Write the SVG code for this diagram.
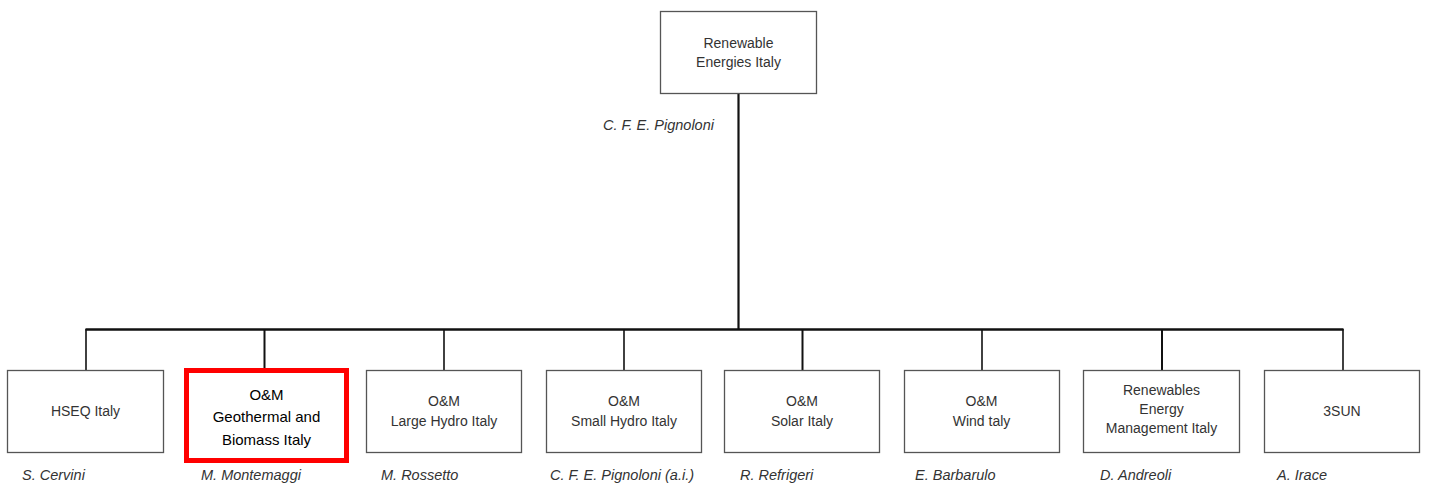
<svg xmlns="http://www.w3.org/2000/svg" width="1429" height="487" viewBox="0 0 1429 487">
  <style>
    .box { fill: #ffffff; stroke: #555555; stroke-width: 1.3; }
    .hl { fill: #ffffff; stroke: #ff0000; stroke-width: 5; }
    .lbl { font-family: "Liberation Sans", Arial, sans-serif; font-size: 14px; fill: #333333; text-anchor: middle; }
    .lbl2 { font-family: "Liberation Sans", Arial, sans-serif; font-size: 15px; fill: #000000; text-anchor: middle; }
    .name { font-family: "Liberation Sans", Arial, sans-serif; font-size: 14.5px; font-style: italic; fill: #333333; }
    .wire { stroke: #111111; fill: none; }
  </style>
  <rect width="1429" height="487" fill="#ffffff"/>

  <!-- connectors -->
  <g id="connectors" class="wire">
    <line x1="738.5" y1="93" x2="738.5" y2="330" stroke-width="2.2"/>
    <line x1="85.5" y1="329.5" x2="1343.5" y2="329.5" stroke-width="2.5"/>
    <line x1="86" y1="329" x2="86" y2="370" stroke-width="1.6"/>
    <line x1="264.5" y1="329" x2="264.5" y2="368" stroke-width="2"/>
    <line x1="444" y1="329" x2="444" y2="370" stroke-width="1.6"/>
    <line x1="624" y1="329" x2="624" y2="370" stroke-width="1.6"/>
    <line x1="802.5" y1="329" x2="802.5" y2="370" stroke-width="2"/>
    <line x1="982" y1="329" x2="982" y2="370" stroke-width="1.6"/>
    <line x1="1162" y1="329" x2="1162" y2="370" stroke-width="2"/>
    <line x1="1343" y1="329" x2="1343" y2="370" stroke-width="1.6"/>
  </g>

  <!-- top node -->
  <g id="rei">
    <rect class="box" x="660.5" y="11.5" width="156" height="82"/>
    <text class="lbl" x="738.5" y="48">Renewable</text>
    <text class="lbl" x="738.5" y="67">Energies Italy</text>
    <text class="name" x="603" y="130">C. F. E. Pignoloni</text>
  </g>

  <g id="hseq">
    <rect class="box" x="7.5" y="370.5" width="156" height="82"/>
    <text class="lbl" x="85.5" y="416">HSEQ Italy</text>
    <text class="name" x="22" y="480">S. Cervini</text>
  </g>

  <g id="om-geo">
    <rect class="hl" x="186.5" y="370.5" width="160" height="90"/>
    <text class="lbl2" x="266.5" y="400">O&amp;M</text>
    <text class="lbl2" x="266.5" y="422">Geothermal and</text>
    <text class="lbl2" x="266.5" y="445">Biomass Italy</text>
    <text class="name" x="201" y="480">M. Montemaggi</text>
  </g>

  <g id="om-large-hydro">
    <rect class="box" x="366.5" y="370.5" width="155" height="82"/>
    <text class="lbl" x="444" y="406">O&amp;M</text>
    <text class="lbl" x="444" y="426">Large Hydro Italy</text>
    <text class="name" x="381" y="480">M. Rossetto</text>
  </g>

  <g id="om-small-hydro">
    <rect class="box" x="546.5" y="370.5" width="155" height="82"/>
    <text class="lbl" x="624" y="406">O&amp;M</text>
    <text class="lbl" x="624" y="426">Small Hydro Italy</text>
    <text class="name" x="550" y="480">C. F. E. Pignoloni (a.i.)</text>
  </g>

  <g id="om-solar">
    <rect class="box" x="724.5" y="370.5" width="155" height="82"/>
    <text class="lbl" x="802" y="406">O&amp;M</text>
    <text class="lbl" x="802" y="426">Solar Italy</text>
    <text class="name" x="740" y="480">R. Refrigeri</text>
  </g>

  <g id="om-wind">
    <rect class="box" x="904.5" y="370.5" width="155" height="82"/>
    <text class="lbl" x="981.5" y="406">O&amp;M</text>
    <text class="lbl" x="981.5" y="426">Wind taly</text>
    <text class="name" x="915" y="480">E. Barbarulo</text>
  </g>

  <g id="rem">
    <rect class="box" x="1083.5" y="370.5" width="156" height="82"/>
    <text class="lbl" x="1161.5" y="395">Renewables</text>
    <text class="lbl" x="1161.5" y="414">Energy</text>
    <text class="lbl" x="1161.5" y="433">Management  Italy</text>
    <text class="name" x="1100" y="480">D. Andreoli</text>
  </g>

  <g id="sun3">
    <rect class="box" x="1264.5" y="370.5" width="155" height="82"/>
    <text class="lbl" x="1342" y="416">3SUN</text>
    <text class="name" x="1277" y="480">A. Irace</text>
  </g>
</svg>
